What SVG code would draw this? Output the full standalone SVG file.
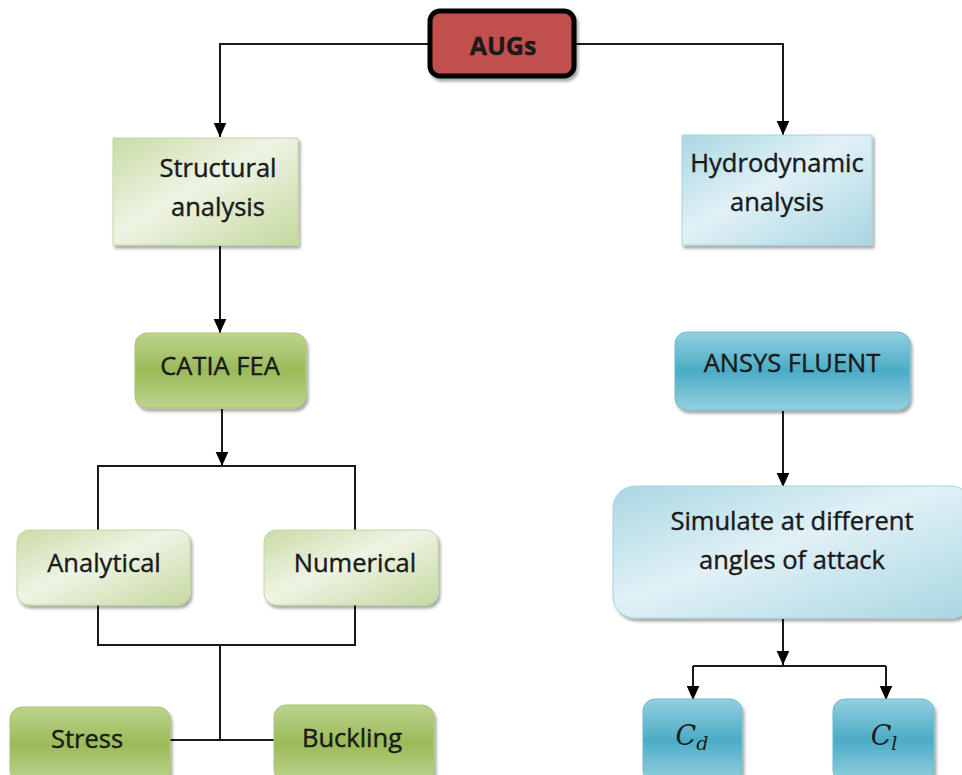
<svg xmlns="http://www.w3.org/2000/svg" width="962" height="775" viewBox="0 0 962 775">
<defs>
<style>
.t{font-family:"Open Sans","Liberation Sans",sans-serif;font-size:25.5px;fill:#1a1a1a;stroke:#1a1a1a;stroke-width:0.4;text-anchor:middle}
.m{font-family:"DejaVu Serif","Liberation Serif",serif;font-style:italic;font-size:27px;fill:#1a1a1a;text-anchor:middle}
.c{fill:none;stroke:#1a1a1a;stroke-width:2}
</style>
<marker id="ah" viewBox="0 0 10 10" refX="10" refY="5" markerWidth="14" markerHeight="14" orient="auto" markerUnits="userSpaceOnUse">
<path d="M0,0.5L10,5L0,9.5z" fill="#000"/>
</marker>
<filter id="sh" x="-10%" y="-10%" width="125%" height="130%">
<feDropShadow dx="2" dy="3" stdDeviation="1.5" flood-color="#000" flood-opacity="0.35"/>
</filter>
<linearGradient id="lg" x1="0" y1="0" x2="1" y2="1">
<stop offset="0" stop-color="#c8dba6"/>
<stop offset="0.45" stop-color="#eef4e4"/>
<stop offset="1" stop-color="#c5d89f"/>
</linearGradient>
<linearGradient id="mg" x1="0" y1="0" x2="0" y2="1">
<stop offset="0" stop-color="#bcd38c"/>
<stop offset="0.5" stop-color="#9bbb59"/>
<stop offset="1" stop-color="#bdd48f"/>
</linearGradient>
<linearGradient id="lb" x1="0" y1="0" x2="1" y2="1">
<stop offset="0" stop-color="#a9d7e3"/>
<stop offset="0.45" stop-color="#e1f1f6"/>
<stop offset="1" stop-color="#a8d6e2"/>
</linearGradient>
<linearGradient id="mb" x1="0" y1="0" x2="0" y2="1">
<stop offset="0" stop-color="#93cfdf"/>
<stop offset="0.5" stop-color="#4bacc6"/>
<stop offset="1" stop-color="#96d0df"/>
</linearGradient>
</defs>
<rect width="962" height="775" fill="#fff"/>
<g id="connectors">
<path class="c" d="M428,44H220V137" marker-end="url(#ah)"/>
<path class="c" d="M575,44H783V135" marker-end="url(#ah)"/>
<path class="c" d="M220,246V333" marker-end="url(#ah)"/>
<path class="c" d="M222,409V466" marker-end="url(#ah)"/>
<path class="c" d="M98,530V466H355V530"/>
<path class="c" d="M98,605V645H355V605"/>
<path class="c" d="M220,645V740M169,740H274"/>
<path class="c" d="M783,411V487" marker-end="url(#ah)"/>
<path class="c" d="M783,619V665" marker-end="url(#ah)"/>
<path class="c" d="M693,666H886"/>
<path class="c" d="M693,666V700" marker-end="url(#ah)"/>
<path class="c" d="M886,666V700" marker-end="url(#ah)"/>
</g>
<g id="augs">
<rect x="430" y="11" width="144" height="65" rx="10" fill="#c0504d" stroke="#000" stroke-width="5" filter="url(#sh)"/>
<text class="t" x="503" y="55" font-weight="bold" style="font-size:25px">AUGs</text>
</g>
<g id="structural">
<rect x="113" y="138" width="185" height="107" fill="url(#lg)" stroke="#c4d79f" filter="url(#sh)"/>
<text class="t" x="218" y="177">Structural</text>
<text class="t" x="218" y="216">analysis</text>
</g>
<g id="hydrodynamic">
<rect x="682" y="135" width="190" height="110" fill="url(#lb)" stroke="#a6d4e0" filter="url(#sh)"/>
<text class="t" x="777" y="172">Hydrodynamic</text>
<text class="t" x="777" y="211">analysis</text>
</g>
<g id="catia">
<rect x="135" y="333" width="171" height="75" rx="12" fill="url(#mg)" stroke="#a9c46e" filter="url(#sh)"/>
<text class="t" x="220" y="375">CATIA FEA</text>
</g>
<g id="ansys">
<rect x="675" y="332" width="235" height="78" rx="12" fill="url(#mb)" stroke="#6bbbd0" filter="url(#sh)"/>
<text class="t" x="792" y="372">ANSYS FLUENT</text>
</g>
<g id="analytical">
<rect x="17" y="530" width="173" height="75" rx="12" fill="url(#lg)" stroke="#c4d79f" filter="url(#sh)"/>
<text class="t" x="104" y="572">Analytical</text>
</g>
<g id="numerical">
<rect x="264" y="530" width="174" height="75" rx="12" fill="url(#lg)" stroke="#c4d79f" filter="url(#sh)"/>
<text class="t" x="355" y="572">Numerical</text>
</g>
<g id="simulate">
<rect x="613" y="486" width="360" height="132" rx="22" fill="url(#lb)" stroke="#a6d4e0" filter="url(#sh)"/>
<text class="t" x="792" y="530">Simulate at different</text>
<text class="t" x="792" y="569">angles of attack</text>
</g>
<g id="stress">
<rect x="10" y="707" width="160" height="75" rx="12" fill="url(#mg)" stroke="#a9c46e" filter="url(#sh)"/>
<text class="t" x="87" y="748">Stress</text>
</g>
<g id="buckling">
<rect x="274" y="705" width="160" height="77" rx="12" fill="url(#mg)" stroke="#a9c46e" filter="url(#sh)"/>
<text class="t" x="352" y="747">Buckling</text>
</g>
<g id="cd">
<rect x="643" y="699" width="99" height="83" rx="12" fill="url(#mb)" stroke="#6bbbd0" filter="url(#sh)"/>
<text class="m" x="692" y="745">C<tspan font-size="19" dy="5">d</tspan></text>
</g>
<g id="cl">
<rect x="833" y="699" width="101" height="83" rx="12" fill="url(#mb)" stroke="#6bbbd0" filter="url(#sh)"/>
<text class="m" x="884" y="745">C<tspan font-size="19" dy="5">l</tspan></text>
</g>
</svg>
